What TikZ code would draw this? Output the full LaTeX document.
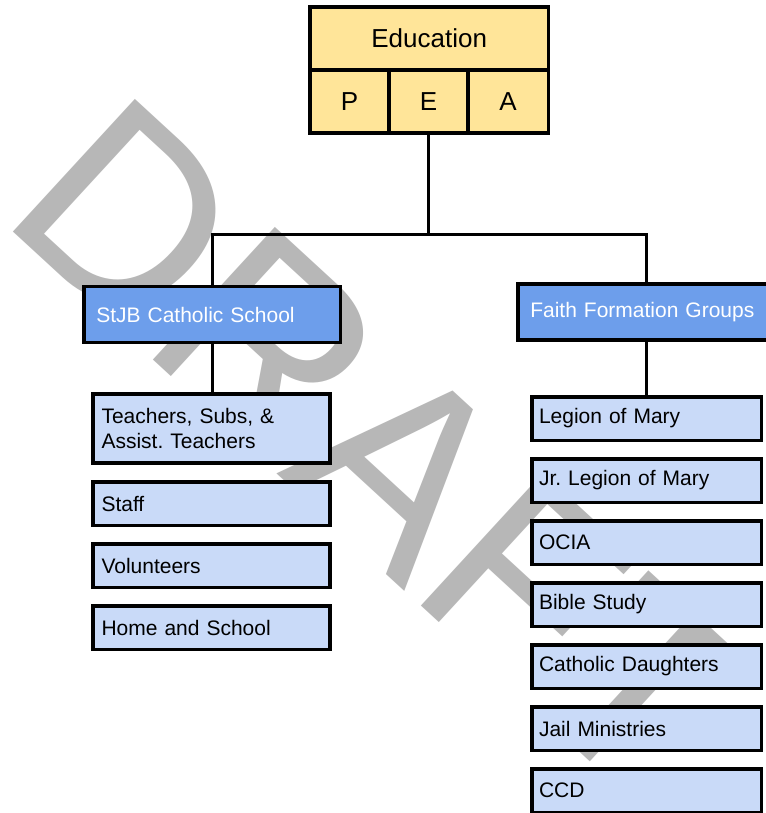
\documentclass[tikz,border=0pt]{standalone}
\usepackage{fontspec}
\setmainfont{Liberation Sans}
\frenchspacing
\definecolor{eduyellow}{HTML}{FFE599}
\definecolor{headblue}{HTML}{6D9EEB}
\definecolor{leafblue}{HTML}{C9DAF8}
\definecolor{wmgray}{HTML}{B7B7B7}
\begin{document}
\begin{tikzpicture}[x=1pt,y=-1pt,
  box/.style={draw=black, line width=3.5pt, rectangle, inner sep=0pt},
  edubox/.style={box, fill=eduyellow, minimum height=63.25pt, font=\fontsize{26}{30}\selectfont},
  headbox/.style={box, fill=headblue, text=white, minimum width=256.5pt, minimum height=55.7pt,
    inner xsep=12.5pt, text width=231.5pt, align=left, font=\fontsize{21}{25}\selectfont},
  leafL/.style={box, fill=leafblue, minimum width=237pt, minimum height=43.5pt,
    inner xsep=8.5pt, text width=220pt, align=left, font=\fontsize{21}{25}\selectfont},
  leafR/.style={box, fill=leafblue, minimum width=229.5pt, minimum height=43.5pt,
    inner xsep=7pt, text width=215.5pt, align=left, font=\fontsize{21}{25}\selectfont},
  link/.style={draw=black, line width=3pt, line join=miter},
  wmark/.style={text=wmgray, inner sep=0pt, font=\fontsize{262}{262}\selectfont}]

\useasboundingbox (0,0) rectangle (765,813);
\fill[white] (0,0) rectangle (765,813);

% watermark behind everything
\node[wmark, rotate=-42.6, anchor=base west] (wm) at (-2.2,217) {DRAFT};

% top box: title row and three cells
\node[edubox, minimum width=238.3pt] (edu) at (429.15,38.4) {Education};
\node[edubox, minimum width=79pt] (p) at (349.5,101.6) {P};
\node[edubox, minimum width=79pt] (e) at (428.5,101.6) {E};
\node[edubox, minimum width=80.3pt] (a) at (508.15,101.6) {A};

% the two branches
\node[headbox] (school) at (212,314.5) {StJB Catholic School};
\node[headbox] (faith) at (646,312) {Faith Formation Groups};

% school column
\node[leafL, minimum height=69.2pt] (teach) at (211.5,428.6) {Teachers, Subs, \&\\Assist. Teachers};
\node[leafL] (staff) at (211.5,503.5) {Staff};
\node[leafL] (vol) at (211.5,565.5) {Volunteers};
\node[leafL] (home) at (211.5,627.5) {Home and School};

% faith formation column
\node[leafR] (legion) at (646.75,418.5) {Legion of Mary};
\node[leafR] (jrlegion) at (646.75,480.5) {Jr. Legion of Mary};
\node[leafR] (ocia) at (646.75,542.5) {OCIA};
\node[leafR] (bible) at (646.75,604.5) {Bible Study};
\node[leafR] (daughters) at (646.75,666.5) {Catholic Daughters};
\node[leafR] (jail) at (646.75,728.5) {Jail Ministries};
\node[leafR] (ccd) at (646.75,790.5) {CCD};

% connectors
\coordinate (bus) at (428.5,234);
\path[link] (e.south) -- (bus);
\path[link] (school.north) |- (bus) -| (faith.north);
\path[link] (school.south) -- (school.south |- teach.north);
\path[link] (faith.south) -- (faith.south |- legion.north);
\end{tikzpicture}
\end{document}
